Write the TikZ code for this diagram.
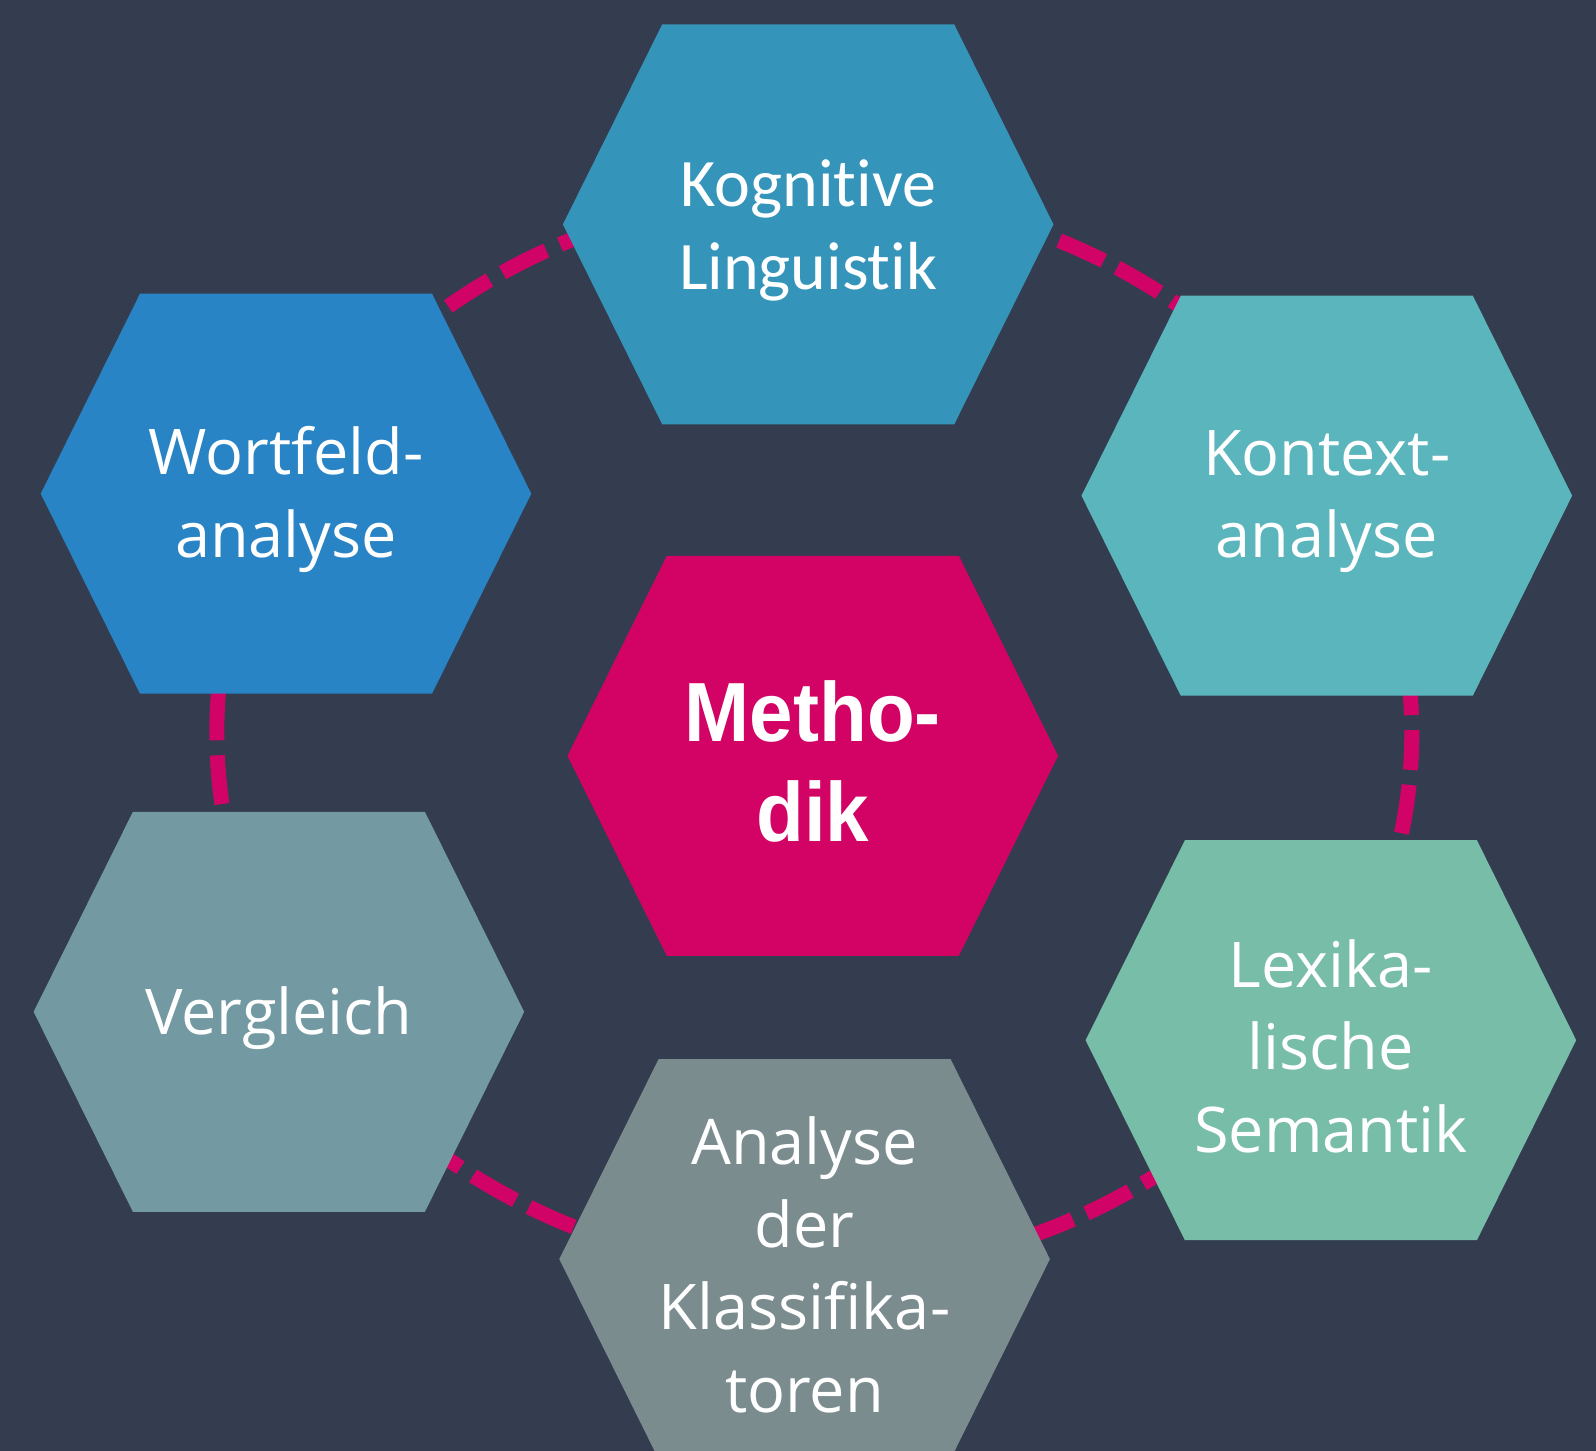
\documentclass[tikz,border=0pt]{standalone}
\usepackage{fontspec}
\setmainfont{Open Sans}
\newfontfamily\calfont{Carlito}[Ligatures=NoCommon]
\newfontfamily\arialfont{Liberation Sans}[FakeStretch=0.93]
\definecolor{bg}{HTML}{333D4F}
\definecolor{cKog}{HTML}{3594BA}
\definecolor{cWort}{HTML}{2884C5}
\definecolor{cKon}{HTML}{5BB5BD}
\definecolor{cMeth}{HTML}{D20365}
\definecolor{cVer}{HTML}{7399A3}
\definecolor{cLex}{HTML}{78BDA8}
\definecolor{cAna}{HTML}{7B8C8F}
\definecolor{cRing}{HTML}{D20366}
\tikzset{
  hexlabel/.style={text=white, align=center, inner sep=0pt, yshift=-3pt,
    font=\fontsize{31.5pt}{41.25pt}\selectfont},
  callabel/.style={font=\calfont\fontsize{34pt}{41.75pt}\selectfont},
  centerlabel/.style={font=\arialfont\bfseries\fontsize{42pt}{50pt}\selectfont},
  ring/.style={draw=cRing, line width=7.5pt, dash pattern=on 24.5pt off 7.5pt, dash phase=6pt}
}
\newcommand{\hexnode}[5]{%
  \fill[#3, shift={#2}] (-245.3,0) -- (-146,-200) -- (146,-200) -- (245.3,0) -- (146,200) -- (-146,200) -- cycle;
  \node[hexlabel, #4] (#1) at #2 {#5};
}
\begin{document}
\begin{tikzpicture}[x=0.5pt, y=-0.5pt]
\useasboundingbox (0,0) rectangle (1596,1451);
\fill[bg] (0,0) rectangle (1596,1451);
\clip (0,0) rectangle (1596,1451);
\draw[ring] (814.3,732.9) ellipse [x radius=597.5, y radius=539.5];
\hexnode{kog}{(808.2,224.4)}{cKog}{callabel}{Kognitive\\Linguistik}
\hexnode{wort}{(286,493.7)}{cWort}{}{Wortfeld-\\analyse}
\hexnode{kon}{(1326.8,495.7)}{cKon}{}{Kontext-\\analyse}
\hexnode{meth}{(812.8,755.8)}{cMeth}{centerlabel}{Metho-\\dik}
\hexnode{ver}{(278.9,1011.8)}{cVer}{}{Vergleich}
\hexnode{lex}{(1330.9,1040.2)}{cLex}{}{Lexika-\\lische\\Semantik}
\hexnode{ana}{(804.6,1259.1)}{cAna}{}{Analyse\\der\\Klassifika-\\toren}
\end{tikzpicture}
\end{document}
